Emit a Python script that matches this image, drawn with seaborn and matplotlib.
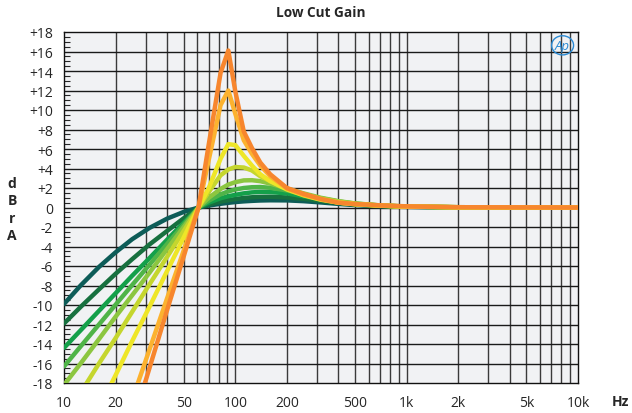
import numpy as np
import pandas as pd
import matplotlib
matplotlib.use('Agg')
import matplotlib.pyplot as plt
import seaborn as sns
from matplotlib.ticker import FixedLocator, FixedFormatter, MultipleLocator

# frequency points (Hz) shared by all curves
freq_hz = [10, 12.5, 16, 20, 25, 31.5, 40, 50, 61, 70, 82, 91, 100, 112, 125, 140,
           160, 200, 250, 315, 400, 500, 700, 1000, 2000, 10000]

# gain in dBrA, one list per curve (lowest Q first)
gain_1 = [-9.9, -8.0, -6.1, -4.6, -3.25, -2.1, -1.14, -0.45, 0, 0.2, 0.38, 0.48, 0.56, 0.63,
          0.68, 0.72, 0.74, 0.73, 0.65, 0.52, 0.37, 0.25, 0.13, 0.06, 0.01, 0]
gain_2 = [-11.9, -10.2, -8.4, -6.8, -5.3, -3.8, -2.4, -1.1, 0, 0.3, 0.6, 0.75, 0.87, 0.98,
          1.05, 1.09, 1.1, 1.03, 0.88, 0.68, 0.46, 0.3, 0.16, 0.08, 0.02, 0]
gain_3 = [-14.4, -12.6, -10.6, -8.8, -7.0, -5.2, -3.3, -1.56, 0, 0.5, 0.95, 1.15, 1.3, 1.45,
          1.55, 1.6, 1.58, 1.45, 1.15, 0.85, 0.55, 0.36, 0.19, 0.09, 0.02, 0]
gain_4 = [-16.3, -14.25, -12.0, -9.97, -7.95, -5.88, -3.73, -1.75, 0, 0.7, 1.35, 1.65, 1.85,
          2.0, 2.08, 2.1, 2.02, 1.75, 1.35, 0.95, 0.62, 0.4, 0.21, 0.1, 0.03, 0]
gain_5 = [-18.2, -16.0, -13.5, -11.2, -9.0, -6.7, -4.25, -2.0, 0, 1.0, 1.9, 2.35, 2.6, 2.78,
          2.8, 2.7, 2.45, 1.95, 1.45, 1.0, 0.65, 0.42, 0.22, 0.1, 0.03, 0]
gain_6 = [-21.7, -19.0, -16.0, -13.4, -10.7, -7.9, -5.05, -2.4, 0, 1.6, 3.3, 3.9, 4.15, 4.1,
          3.8, 3.2, 2.7, 1.95, 1.35, 0.9, 0.58, 0.37, 0.2, 0.1, 0.03, 0]
gain_7 = [-27.9, -24.4, -20.6, -17.2, -13.7, -10.2, -6.5, -3.07, 0, 2.0, 5.0, 6.5, 6.4, 5.3,
          4.3, 3.4, 2.7, 1.85, 1.25, 0.8, 0.5, 0.33, 0.18, 0.09, 0.02, 0]
gain_8 = [-40.0, -35.0, -29.6, -24.7, -19.7, -14.6, -9.3, -4.4, 0, 4.9, 10.5, 12.0, 9.6, 6.9,
          5.5, 4.3, 3.2, 1.95, 1.3, 0.85, 0.5, 0.35, 0.2, 0.1, 0.03, 0]
gain_9 = [-45.0, -39.6, -33.5, -27.9, -22.3, -16.5, -10.5, -5.0, 0, 6.5, 13.8, 16.1, 11.9, 7.8,
          6.1, 4.6, 3.4, 2.0, 1.4, 0.88, 0.5, 0.36, 0.22, 0.12, 0.03, 0]

curves = [gain_1, gain_2, gain_3, gain_4, gain_5, gain_6, gain_7, gain_8, gain_9]
colors = ['#0d5c58', '#17703f', '#14a04a', '#4fb448', '#8cc640', '#c5d62e', '#eee628',
          '#fcb22f', '#f7862e']

x_ticks = [10, 20, 50, 100, 200, 500, 1000, 2000, 5000, 10000]
x_labels = ['10', '20', '50', '100', '200', '500', '1k', '2k', '5k', '10k']
y_ticks = list(range(-18, 19, 2))
y_labels = [('+%d' % v if v > 0 else '%d' % v) for v in y_ticks]

rows = []
for i, g in enumerate(curves):
    for f, v in zip(freq_hz, g):
        rows.append({'freq': f, 'gain': v, 'curve': i})
df = pd.DataFrame(rows)

sns.set_style('white')
plt.rcParams['font.family'] = ['Open Sans', 'DejaVu Sans']

fig = plt.figure(figsize=(6.32, 4.14), dpi=100)
ax = fig.add_axes([64 / 632, 1 - 384 / 414, 514 / 632, 351 / 414])
ax.set_facecolor('#f1f2f4')

ax.set_xscale('log')
ax.set_xlim(10, 10000)
ax.set_ylim(-18, 18)

# grid: every 1-9 step per decade and every 2 dB
grid_x = [m * 10 ** d for d in range(1, 4) for m in range(1, 10)] + [10000]
for gx in grid_x[1:-1]:
    ax.axvline(gx, color='#3a3a3a', lw=1.0, zorder=1)
for gy in y_ticks[1:-1]:
    ax.axhline(gy, color='#1a1a1a', lw=1.0, zorder=1)

sns.lineplot(data=df, x='freq', y='gain', hue='curve', palette=colors, lw=3.2,
             legend=False, sort=False, ax=ax, zorder=3)

ax.xaxis.set_major_locator(FixedLocator(x_ticks))
ax.xaxis.set_major_formatter(FixedFormatter(x_labels))
ax.xaxis.set_minor_locator(FixedLocator([]))
ax.yaxis.set_major_locator(FixedLocator(y_ticks))
ax.yaxis.set_major_formatter(FixedFormatter(y_labels))
ax.yaxis.set_minor_locator(MultipleLocator(0.5))
ax.tick_params(axis='x', which='both', length=0, pad=9, labelsize=10)
ax.tick_params(axis='y', which='major', length=0, pad=8, labelsize=10)
ax.tick_params(axis='y', which='minor', direction='in', length=4, width=0.8, left=True)
ax.set_xlabel('')
ax.set_ylabel('')
for s in ax.spines.values():
    s.set_visible(True)
    s.set_color('#111111')
    s.set_linewidth(1.0)

fig.text(321 / 632, 1 - 13 / 414, 'Low Cut Gain', ha='center', va='center',
         fontsize=9.8, fontweight='bold')
fig.text(12 / 632, 1 - 210 / 414, 'd\nB\nr\nA', ha='center', va='center',
         fontsize=10, fontweight='bold', linespacing=1.3)
fig.text(620 / 632, 1 - 402 / 414, 'Hz', ha='center', va='center',
         fontsize=10, fontweight='bold')
ax.text(0.97, 0.962, 'Ap', transform=ax.transAxes, ha='center', va='center',
        fontsize=9.5, style='italic', color='#2a8ad4', zorder=5,
        bbox=dict(boxstyle='ellipse,pad=0.02', fc='none', ec='#2a8ad4', lw=1.0))

fig.savefig('out.png', dpi=100)
